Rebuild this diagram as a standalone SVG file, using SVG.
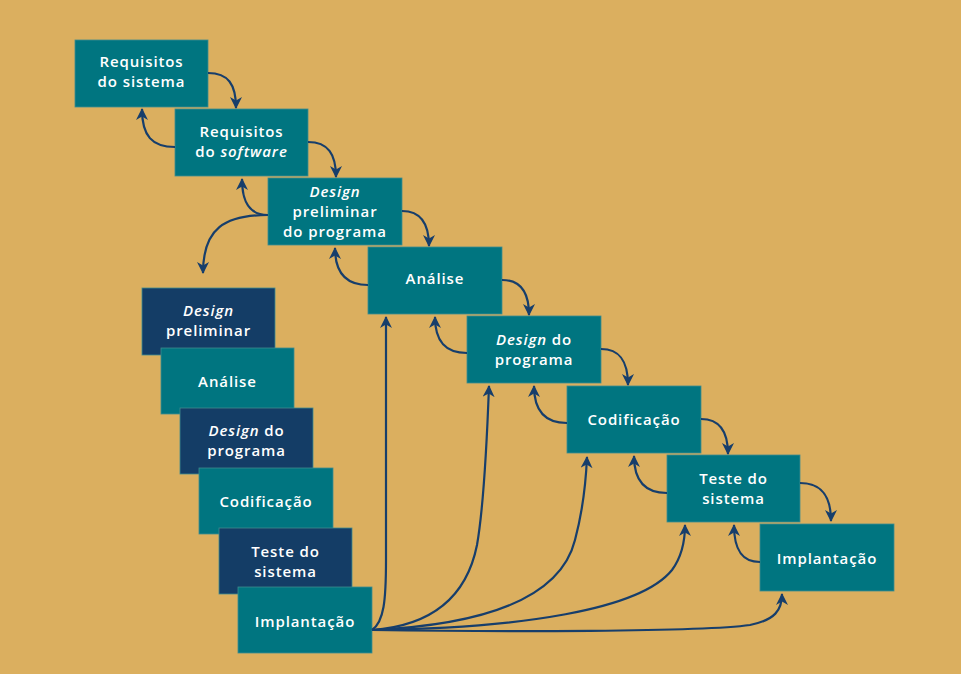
<svg xmlns="http://www.w3.org/2000/svg" width="961" height="674" viewBox="0 0 961 674">
<defs>
<style>
.bg{fill:#DBAF5F}
.t{fill:#007580}
.n{fill:#143D66}
.box{stroke:#3F8C8E;stroke-width:0.8}
.lbl{font-family:"Open Sans","Liberation Sans",sans-serif;font-weight:600;font-size:15px;fill:#FFFFFF;text-anchor:middle;letter-spacing:0.9px}
.i{font-style:italic}
.c{fill:none;stroke:#173E6B;stroke-width:2.2;marker-end:url(#ah)}
</style>
<marker id="ah" viewBox="0 0 12 12" refX="11" refY="6" markerWidth="12" markerHeight="12" markerUnits="userSpaceOnUse" orient="auto">
<path d="M0,0 L12,6 L0,12 L3.5,6 z" fill="#173E6B"/>
</marker>
</defs>
<rect class="bg" x="0" y="0" width="961" height="674"/>

<g id="n1"><rect class="t box" x="75" y="40" width="133" height="67"/><text class="lbl" x="141.5" y="67">Requisitos</text><text class="lbl" x="141.5" y="87">do sistema</text></g>
<g id="n2"><rect class="t box" x="175" y="109" width="133" height="67"/><text class="lbl" x="241.5" y="137">Requisitos</text><text class="lbl" x="241.5" y="157">do <tspan class="i">software</tspan></text></g>
<g id="n3"><rect class="t box" x="268" y="178" width="134" height="67"/><text class="lbl i" x="335" y="197">Design</text><text class="lbl" x="335" y="217">preliminar</text><text class="lbl" x="335" y="237">do programa</text></g>
<g id="n4"><rect class="t box" x="368" y="247" width="134" height="67"/><text class="lbl" x="435" y="284">Análise</text></g>
<g id="n5"><rect class="t box" x="467" y="316" width="134" height="67"/><text class="lbl" x="534" y="345"><tspan class="i">Design</tspan> do</text><text class="lbl" x="534" y="365">programa</text></g>
<g id="n6"><rect class="t box" x="567" y="386" width="134" height="67"/><text class="lbl" x="634" y="425">Codificação</text></g>
<g id="n7"><rect class="t box" x="667" y="455" width="133" height="67"/><text class="lbl" x="733.5" y="484">Teste do</text><text class="lbl" x="733.5" y="504">sistema</text></g>
<g id="n8"><rect class="t box" x="760" y="524" width="134" height="67"/><text class="lbl" x="827" y="564">Implantação</text></g>

<g id="s1"><rect class="n box" x="142" y="288" width="133" height="67"/><text class="lbl i" x="208.5" y="316">Design</text><text class="lbl" x="208.5" y="336">preliminar</text></g>
<g id="s2"><rect class="t box" x="161" y="348" width="133" height="66"/><text class="lbl" x="227.5" y="387">Análise</text></g>
<g id="s3"><rect class="n box" x="180" y="408" width="133" height="66"/><text class="lbl" x="246.5" y="436"><tspan class="i">Design</tspan> do</text><text class="lbl" x="246.5" y="456">programa</text></g>
<g id="s4"><rect class="t box" x="199" y="468" width="134" height="66"/><text class="lbl" x="266" y="507">Codificação</text></g>
<g id="s5"><rect class="n box" x="219" y="528" width="133" height="66"/><text class="lbl" x="285.5" y="557">Teste do</text><text class="lbl" x="285.5" y="577">sistema</text></g>
<g id="s6"><rect class="t box" x="238" y="587" width="134" height="66"/><text class="lbl" x="305" y="627">Implantação</text></g>

<g id="connectors">
<path class="c" d="M208,73 C228,73 236,84 236,108"/>
<path class="c" d="M308,142 C328,142 336,154 336,177"/>
<path class="c" d="M402,211 C420,211 429,222 429,246"/>
<path class="c" d="M502,280 C520,280 529,292 529,315"/>
<path class="c" d="M601,349 C619,349 628,360 628,385"/>
<path class="c" d="M701,419 C719,419 728,430 728,454"/>
<path class="c" d="M800,483 C821,483 831,495 831,521"/>

<path class="c" d="M175,147 C152,147 142,136 142,109"/>
<path class="c" d="M268,215 C250,215 242,203 242,179"/>
<path class="c" d="M368,285 C346,285 335,273 335,248"/>
<path class="c" d="M467,353 C445,353 435,341 435,317"/>
<path class="c" d="M567,423 C545,423 534,411 534,386"/>
<path class="c" d="M667,493 C645,493 634,481 634,456"/>
<path class="c" d="M760,562 C742,562 734,550 734,525"/>

<path class="c" d="M268,215 C225,215 203,228 203,273"/>

<path class="c" d="M372,630 C384,622 386,600 386,560 L386,317"/>
<path class="c" d="M372,630 C440,625 468,590 477,545 C484,505 487,440 489,386"/>
<path class="c" d="M372,630 C480,625 560,600 575,540 C583,510 586,480 587,457"/>
<path class="c" d="M372,630 C520,628 640,610 672,570 C683,555 685,540 685,525"/>
<path class="c" d="M372,630 C500,632 700,632 750,625 C775,620 782,610 782,594"/>
</g>
</svg>
